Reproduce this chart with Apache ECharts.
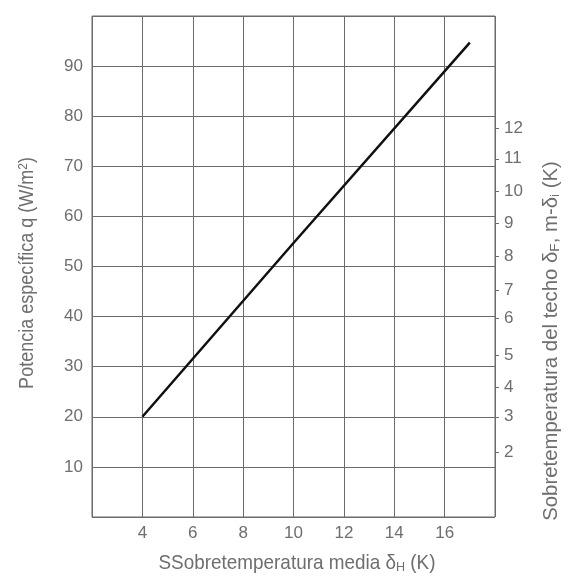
<!DOCTYPE html>
<html>
<head>
<meta charset="utf-8">
<script src="https://cdn.jsdelivr.net/npm/echarts@6/dist/echarts.min.js"></script>
<style>
html,body{margin:0;padding:0;background:#fff;}
#c{width:569px;height:576px;}
</style>
</head>
<body>
<div id="c"></div>
<script>
// X: mean over-temperature δH (K); Y: specific power q (W/m²)
const xValues = [4, 10, 17];
const qValues = [20, 54.7, 94.7];
// Left axis ticks
const leftTickLabels = [10, 20, 30, 40, 50, 60, 70, 80, 90];
// Bottom axis ticks
const bottomTickLabels = [4, 6, 8, 10, 12, 14, 16];
// Right axis (ceiling over-temperature) labels and their positions in q units
const rightTickLabels = ['2', '3', '4', '5', '6', '7', '8', '9', '10', '11', '12'];
const rightTickAtQ = [13.0, 20.0, 25.9, 32.3, 39.7, 45.3, 52.1, 58.7, 65.1, 71.5, 77.6];

const FONT = '"Liberation Sans", Arial, sans-serif';
const TXT = '#6e6e6e';
const GRID = '#6b6b6b';

const chart = echarts.init(document.getElementById('c'), null, {renderer: 'canvas'});
const labelMap = {};
rightTickAtQ.forEach((v, i) => { labelMap[v] = rightTickLabels[i]; });

chart.setOption({
  animation: false,
  backgroundColor: '#fff',
  grid: {left: 92, right: 74, top: 16, bottom: 59, show: true, borderColor: GRID, borderWidth: 1, backgroundColor: 'transparent'},
  xAxis: {
    type: 'value', min: 2, max: 18, interval: 2,
    axisLine: {show: false}, axisTick: {show: false},
    splitLine: {show: true, lineStyle: {color: GRID, width: 1}},
    axisLabel: {
      color: TXT, fontFamily: FONT, fontSize: 17, margin: 8,
      formatter: v => bottomTickLabels.includes(v) ? String(v) : ''
    }
  },
  yAxis: [
    {
      type: 'value', min: 0, max: 100, interval: 10,
      axisLine: {show: false}, axisTick: {show: false},
      splitLine: {show: true, lineStyle: {color: GRID, width: 1}},
      axisLabel: {
        color: TXT, fontFamily: FONT, fontSize: 17, margin: 9,
        formatter: v => leftTickLabels.includes(v) ? String(v) : ''
      }
    },
    {
      type: 'value', min: 0, max: 100, position: 'right',
      axisLine: {show: false},
      splitLine: {show: false},
      axisTick: {show: true, customValues: rightTickAtQ, length: 4, lineStyle: {color: GRID}},
      axisLabel: {
        show: true, customValues: rightTickAtQ, color: TXT, fontFamily: FONT, fontSize: 17, margin: 9,
        formatter: v => labelMap[v] !== undefined ? labelMap[v] : ''
      }
    }
  ],
  series: [{
    type: 'line',
    data: xValues.map((x, i) => [x, qValues[i]]),
    showSymbol: false,
    lineStyle: {color: '#111', width: 2.5},
    silent: true
  }],
  graphic: [
    {
      type: 'text', x: 297, y: 563, scaleX: 1.05, scaleY: 1.12,
      style: {
        text: '{n|SSobretemperatura media δ}{s|H}{n| (K)}',
        rich: {
          n: {fontFamily: FONT, fontSize: 18, fill: TXT},
          s: {fontFamily: FONT, fontSize: 12, fill: TXT, padding: [7, 0, 0, 0]}
        },
        align: 'center', verticalAlign: 'middle'
      }
    },
    {
      type: 'text', x: 28, y: 273, rotation: Math.PI / 2, scaleX: 1.0, scaleY: 1.1,
      style: {
        text: '{n|Potencia específica q (W/m}{p|2}{n|)}',
        rich: {
          n: {fontFamily: FONT, fontSize: 18, fill: TXT},
          p: {fontFamily: FONT, fontSize: 12, fill: TXT, padding: [0, 0, 8, 0]}
        },
        align: 'center', verticalAlign: 'middle'
      }
    },
    {
      type: 'text', x: 552, y: 341, rotation: Math.PI / 2, scaleX: 1.13, scaleY: 1.1,
      style: {
        text: '{n|Sobretemperatura del techo δ}{s|F}{n|, m-δ}{s|i}{n| (K)}',
        rich: {
          n: {fontFamily: FONT, fontSize: 18, fill: TXT},
          s: {fontFamily: FONT, fontSize: 12, fill: TXT, padding: [7, 0, 0, 0]}
        },
        align: 'center', verticalAlign: 'middle'
      }
    }
  ]
});
</script>
</body>
</html>
